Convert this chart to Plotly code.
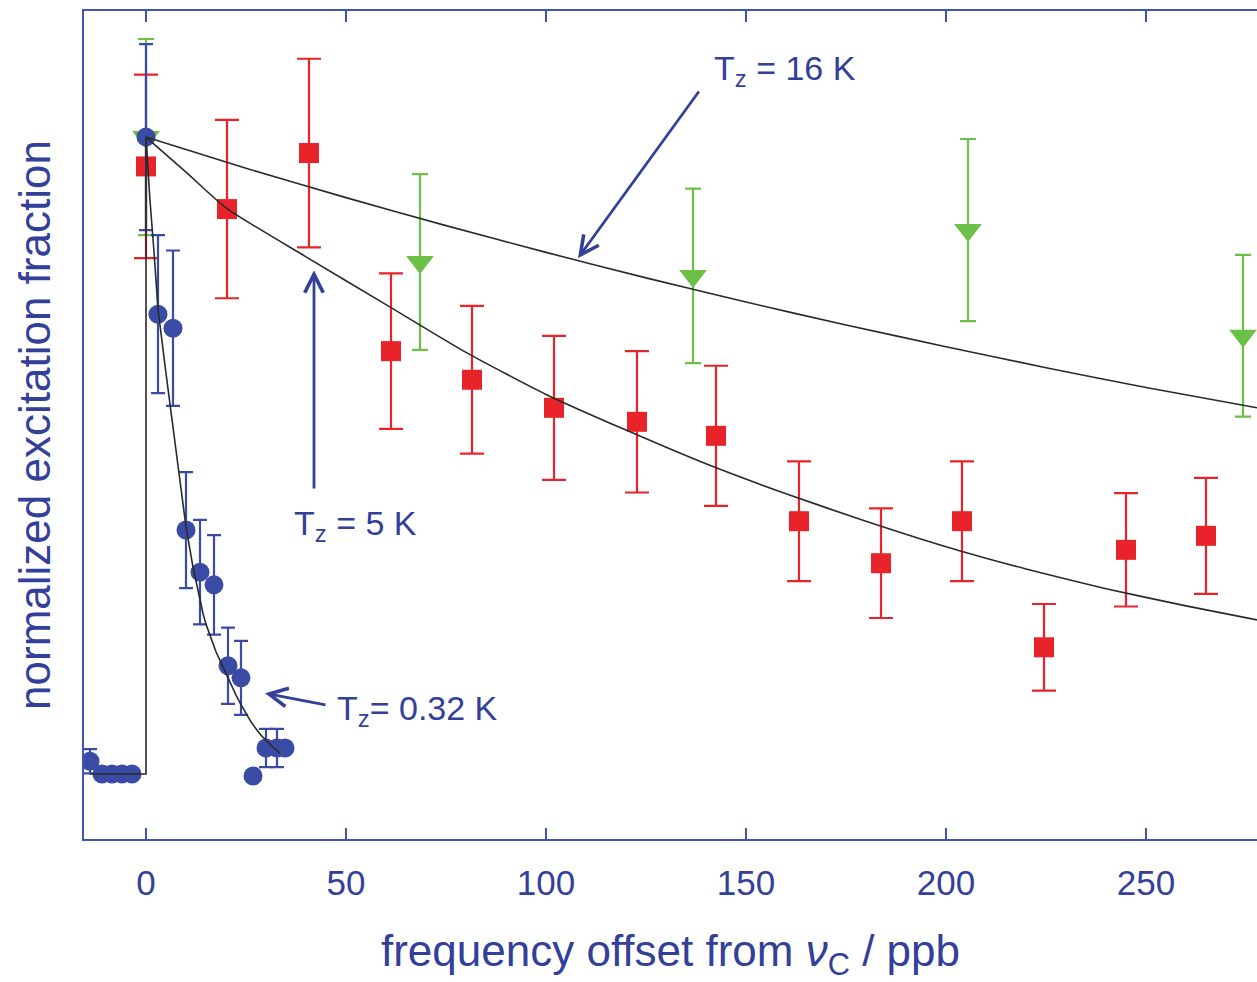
import plotly.graph_objects as go

# ---------------- data ----------------
# T_z = 0.32 K (blue circles)
blue_x = [-14, -11, -8.5, -6, -3.5, 0, 3, 6.75, 10, 13.5, 17, 20.5, 23.75, 26.75, 30, 32.75, 34.75]
blue_y = [0.020, 0.0, 0.0, 0.0, 0.0, 1.0, 0.722, 0.700, 0.383, 0.317, 0.297, 0.170, 0.151, -0.003, 0.041, 0.041, 0.041]
blue_err = [0.019, 0, 0, 0, 0, 0.146, 0.124, 0.122, 0.091, 0.082, 0.078, 0.060, 0.058, 0, 0.030, 0.030, 0.0]

# T_z = 5 K (red squares)
red_x = [0, 20.25, 40.75, 61.25, 81.5, 102, 122.75, 142.5, 163.25, 183.75, 204, 224.5, 245, 265]
red_y = [0.954, 0.887, 0.975, 0.664, 0.619, 0.575, 0.553, 0.531, 0.397, 0.331, 0.397, 0.199, 0.352, 0.374]
red_err = [0.144, 0.140, 0.148, 0.122, 0.116, 0.113, 0.111, 0.110, 0.094, 0.086, 0.094, 0.068, 0.089, 0.091]

# T_z = 16 K (green down-triangles)
green_x = [0, 68.5, 136.75, 205.5, 274.25]
green_y = [1.0, 0.804, 0.782, 0.854, 0.688]
green_err = [0.154, 0.138, 0.137, 0.143, 0.127]

# fitted line shapes
fit032_x = [-14, 0, 0, 1, 2, 3, 5, 7, 10, 11.75, 12.5, 14.25, 15, 16.25, 17.5, 18.75, 20, 21.25, 22.5, 23.75, 25, 26.25, 27.5, 28.75, 30, 31.75, 33.5]
fit032_y = [0.0, 0.0, 1.0, 0.90, 0.82, 0.730, 0.629, 0.533, 0.388, 0.325, 0.302, 0.252, 0.235, 0.212, 0.192, 0.175, 0.158, 0.140, 0.124, 0.109, 0.095, 0.082, 0.071, 0.061, 0.053, 0.042, 0.033]

fit5_x = [0, 10, 20, 40, 60, 80, 100, 120, 140, 160, 180, 200, 220, 240, 260, 277.75]
fit5_y = [1.0, 0.945, 0.889, 0.812, 0.737, 0.662, 0.596, 0.540, 0.487, 0.440, 0.397, 0.357, 0.322, 0.291, 0.264, 0.242]

fit16_x = [0, 25, 50, 75, 100, 125, 150, 175, 200, 225, 250, 277.75]
fit16_y = [1.0, 0.951, 0.905, 0.861, 0.819, 0.779, 0.741, 0.705, 0.671, 0.638, 0.607, 0.575]

x_ticks = [0, 50, 100, 150, 200, 250]

# ---------------- styling ----------------
AXIS_BLUE = "#4453b8"
TEXT_BLUE = "#33409a"
RED = "#e8242a"
GREEN = "#6cbf47"
BLUE = "#3a4ba6"
FONT = "Liberation Sans, Arial, sans-serif"

fig = go.Figure()

fig.add_trace(go.Scatter(
    x=green_x, y=green_y, mode="markers",
    marker=dict(symbol="triangle-down", size=24, color=GREEN),
    error_y=dict(type="data", array=green_err, color=GREEN, thickness=2.2, width=8),
))
fig.add_trace(go.Scatter(
    x=red_x, y=red_y, mode="markers",
    marker=dict(symbol="square", size=20, color=RED),
    error_y=dict(type="data", array=red_err, color=RED, thickness=2.2, width=12),
))
fig.add_trace(go.Scatter(
    x=blue_x, y=blue_y, mode="markers",
    marker=dict(symbol="circle", size=19, color=BLUE),
    error_y=dict(type="data", array=blue_err, color=BLUE, thickness=2.2, width=7),
))

fig.add_trace(go.Scatter(x=fit032_x, y=fit032_y, mode="lines",
                         line=dict(color="#2a2a2a", width=1.6)))
for fx, fy in [(fit5_x, fit5_y), (fit16_x, fit16_y)]:
    fig.add_trace(go.Scatter(x=fx, y=fy, mode="lines", line_shape="spline",
                             line=dict(color="#2a2a2a", width=1.6, smoothing=0.6)))

# annotations: arrows
arrows = [
    dict(tail=(138.5, 1.074), head=(108, 0.810)),
    dict(tail=(42, 0.446), head=(42, 0.791)),
    dict(tail=(45.25, 0.108), head=(29.75, 0.127)),
]
for a in arrows:
    fig.add_annotation(
        x=a["head"][0], y=a["head"][1], ax=a["tail"][0], ay=a["tail"][1],
        xref="x", yref="y", axref="x", ayref="y", text="",
        showarrow=True, arrowhead=5, arrowsize=1.3, arrowwidth=2.8,
        arrowcolor=TEXT_BLUE,
    )

labels = [
    (141.5, 1.105, "T<sub>z</sub> = 16 K"),
    (36.5, 0.391, "T<sub>z</sub> = 5 K"),
    (47.25, 0.100, "T<sub>z</sub>= 0.32 K"),
]
for lx, ly, lt in labels:
    fig.add_annotation(x=lx, y=ly, xref="x", yref="y", text=lt,
                       showarrow=False, xanchor="left", yanchor="middle",
                       font=dict(family=FONT, size=34, color=TEXT_BLUE))

fig.update_layout(
    width=1257, height=982,
    margin=dict(l=84, r=0, t=11, b=143),
    paper_bgcolor="white", plot_bgcolor="white",
    showlegend=False,
    font=dict(family=FONT, color=TEXT_BLUE),
)

fig.update_xaxes(
    range=[-15.5, 277.75],
    tickvals=x_ticks, ticktext=[str(t) for t in x_ticks],
    ticks="inside", ticklen=11, tickwidth=1.5, tickcolor=AXIS_BLUE,
    showline=True, linecolor=AXIS_BLUE, linewidth=2, mirror="ticks",
    showgrid=False, zeroline=False,
    tickfont=dict(family=FONT, size=35, color=TEXT_BLUE),
    ticklabelstandoff=12,
    title=dict(text="frequency offset from <i>ν</i><sub>C</sub> / ppb",
               font=dict(family=FONT, size=44, color=TEXT_BLUE), standoff=36),
)
fig.update_yaxes(
    range=[-0.102, 1.198],
    showticklabels=False, ticks="",
    showline=True, linecolor=AXIS_BLUE, linewidth=2, mirror=False,
    showgrid=False, zeroline=False,
    title=dict(text="normalized excitation fraction",
               font=dict(family=FONT, size=44, color=TEXT_BLUE), standoff=18),
)

fig.write_html("out.html")
